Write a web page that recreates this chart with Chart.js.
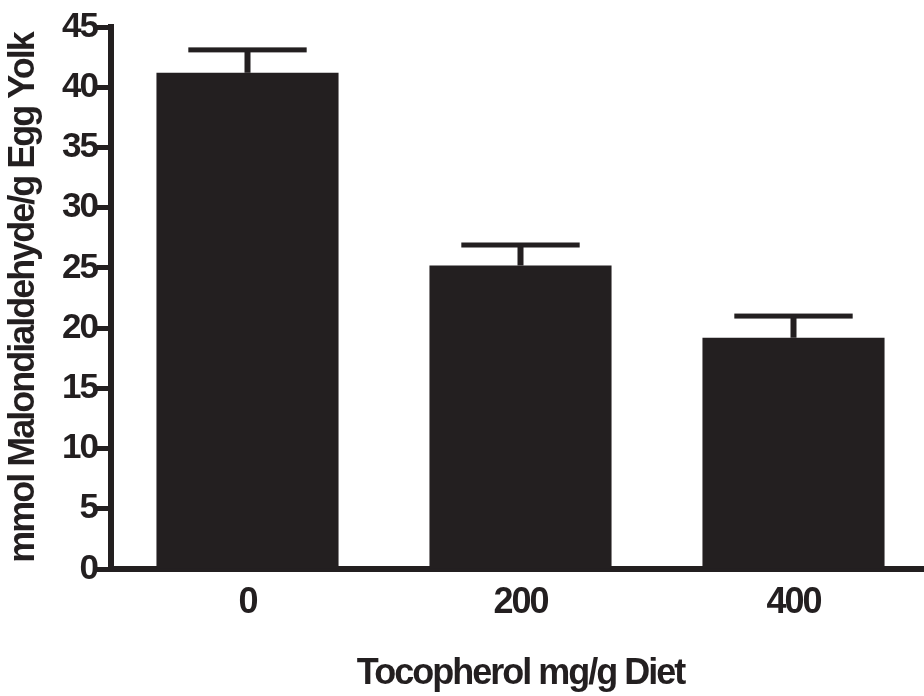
<!DOCTYPE html>
<html>
<head>
<meta charset="utf-8">
<script src="https://cdn.jsdelivr.net/npm/chart.js@4/dist/chart.umd.min.js"></script>
<style>
  html, body { margin: 0; padding: 0; background: #ffffff; overflow: hidden; }
  #wrap { width: 940px; height: 696px; position: relative; }
</style>
</head>
<body>
<div id="wrap"><canvas id="chart"></canvas></div>
<script>
// Tocopherol dose groups and measured malondialdehyde (mean and SEM)
const doses = ['0', '200', '400'];
const mdaMean = [41.2, 25.2, 19.2];
const mdaSem = [1.9, 1.7, 1.8];
const yTicks = [0, 5, 10, 15, 20, 25, 30, 35, 40, 45];

const ink = '#231f20';

// Tight, heavy lettering for all axis text
const tightText = {
  id: 'tightText',
  beforeDraw(chart) {
    if ('letterSpacing' in chart.ctx) chart.ctx.letterSpacing = '-2px';
  }
};

// Upper-only error bars drawn from the SEM values via the y scale
const errorBars = {
  id: 'errorBars',
  afterDatasetsDraw(chart) {
    const { ctx, scales: { y } } = chart;
    const meta = chart.getDatasetMeta(0);
    ctx.save();
    ctx.fillStyle = ink;
    meta.data.forEach((bar, i) => {
      const top = y.getPixelForValue(mdaMean[i]);
      const capY = y.getPixelForValue(mdaMean[i] + mdaSem[i]);
      const capHalf = bar.width * 0.325;
      // stem
      ctx.fillRect(bar.x - 3, capY, 6, top - capY);
      // cap
      ctx.fillRect(bar.x - capHalf, capY - 2.5, capHalf * 2, 5);
    });
    ctx.restore();
  }
};

new Chart(document.getElementById('chart'), {
  type: 'bar',
  data: {
    labels: doses,
    datasets: [{
      data: mdaMean,
      backgroundColor: ink,
      borderWidth: 0,
      barPercentage: 0.667,
      categoryPercentage: 1
    }]
  },
  options: {
    responsive: true,
    maintainAspectRatio: false,
    animation: false,
    devicePixelRatio: 1,
    layout: { padding: { top: 27, right: 10, left: 0, bottom: 0 } },
    plugins: { legend: { display: false }, tooltip: { enabled: false } },
    scales: {
      x: {
        offset: true,
        grid: { display: false },
        border: { display: true, color: ink, width: 6 },
        ticks: {
          color: ink,
          padding: 4,
          font: { family: 'Liberation Sans', weight: 'bold', size: 36 }
        },
        title: {
          display: true,
          text: 'Tocopherol mg/g Diet',
          color: ink,
          padding: { top: 0, bottom: 0 },
          font: { family: 'Liberation Sans', weight: 'bold', size: 36 }
        },
        afterFit(scale) { scale.height = 127; }
      },
      y: {
        min: 0,
        max: 45,
        afterBuildTicks(scale) { scale.ticks = yTicks.map(v => ({ value: v })); },
        grid: {
          display: true,
          drawOnChartArea: false,
          drawTicks: true,
          tickLength: 14,
          tickWidth: 5,
          tickColor: ink
        },
        border: { display: true, color: ink, width: 6 },
        ticks: {
          color: ink,
          padding: 0,
          font: { family: 'Liberation Sans', weight: 'bold', size: 35 }
        },
        title: {
          display: true,
          text: 'mmol Malondialdehyde/g Egg Yolk',
          color: ink,
          padding: { top: 2, bottom: 0 },
          font: { family: 'Liberation Sans', weight: 'bold', size: 36 }
        },
        afterFit(scale) { scale.width = 111; }
      }
    }
  },
  plugins: [tightText, errorBars]
});
</script>
</body>
</html>
